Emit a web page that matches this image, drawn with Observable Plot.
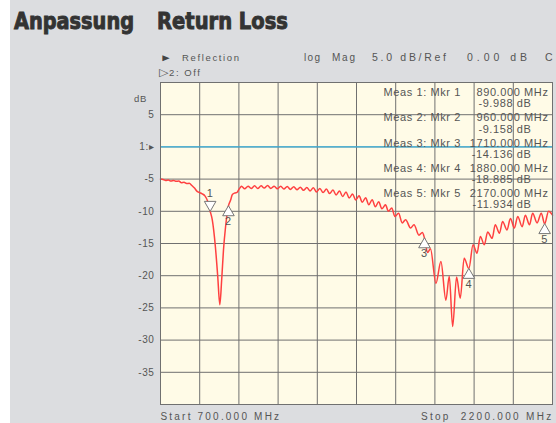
<!DOCTYPE html>
<html><head><meta charset="utf-8">
<script src="https://cdn.jsdelivr.net/npm/d3@7"></script>
<script src="https://cdn.jsdelivr.net/npm/@observablehq/plot@0.6"></script>
<style>
html,body{margin:0;padding:0;background:#fff;}
#page{position:relative;width:556px;height:423px;overflow:hidden;}
#panel{position:absolute;left:10px;top:0;width:546px;height:423px;background:#dcdde0;}
#chart{position:absolute;left:0;top:0;}
#head{position:absolute;left:0;top:0;}
</style></head><body>
<div id="page"><div id="panel"></div><div id="chart"></div><svg id="head" width="556" height="82"></svg></div>
<script>
// Trace (frequency in MHz, return loss in dB)
const traceFreq = [700,710,720,730,740,750,760,770,780,790,800,810,820,830,840,850,860,870,880,890,
  898,910,919,927,934,941,949,960,968,975,985,993,1000,1006,
  1010,1022,1035,1047,1060,1072,1085,1097,1110,1122,1135,1147,1160,1172,1185,1197,
  1210,1222,1235,1247,1260,1272,1285,1297,1310,1322,1335,1347,1360,1372,1385,1397,
  1410,1422,1435,1447,1460,1472,1485,1497,1510,1522,1535,1547,1561,1572,1585,1597,
  1611,1625,1638,1657,1670,1689,1702,1710,1722,1733,1754,1773,1792,1805,1818,1833,
  1847,1862,1880,1896,1911,1924,1939,1952,1969,1981,1997,2009,2026,2039,2054,2067,
  2084,2096,2112,2124,2141,2157,2170,2185,2200];
const traceDb = [-5.0,-5.05,-5.2,-5.15,-5.3,-5.2,-5.35,-5.3,-5.55,-5.5,-5.7,-5.65,-6.0,-6.4,-6.9,-7.1,-7.3,-7.6,-8.4,-9.988,
  -11.3,-15.5,-20.1,-24.5,-20.7,-16.0,-12.4,-9.158,-8.3,-7.4,-7.15,-7.05,-6.6,-6.25,
  -6.1,-6.5,-6.1,-6.45,-6.05,-6.45,-6.05,-6.4,-6.0,-6.45,-6.1,-6.5,-6.1,-6.55,-6.15,-6.6,
  -6.2,-6.65,-6.25,-6.75,-6.3,-6.85,-6.35,-7.0,-6.45,-7.1,-6.55,-7.25,-6.7,-7.45,-6.85,-7.7,
  -7.0,-7.95,-7.3,-8.25,-7.6,-8.6,-7.9,-9.0,-8.2,-9.3,-8.5,-9.6,-9.0,-10.0,-9.5,-10.8,
  -10.3,-11.8,-11.3,-12.6,-12.1,-13.7,-13.3,-14.136,-16.4,-15.8,-21.2,-17.8,-23.8,-20.1,-27.9,-20.2,
  -23.5,-17.3,-18.885,-15.2,-16.5,-13.9,-15.2,-13.2,-14.2,-12.1,-13.4,-11.6,-12.9,-11.1,-12.6,-10.8,
  -12.4,-10.6,-12.1,-10.3,-11.8,-10.3,-11.934,-10.0,-10.6];

// Markers
const markerNum = [1, 2, 3, 4, 5];
const markerFreq = [890, 960, 1710, 1880, 2170];
const markerDb = [-9.988, -9.158, -14.136, -18.885, -11.934];
const markerDown = [true, false, false, false, false];

// Grid / ticks
const xGrid = [700, 850, 1000, 1150, 1300, 1450, 1600, 1750, 1900, 2050, 2200];
const yGrid = [10, 5, 0, -5, -10, -15, -20, -25, -30, -35, -40];
const yLabels = [5, 0, -5, -10, -15, -20, -25, -30, -35];
const refLevel = 0;

const startLabel = "Start 700.000 MHz";
const stopLabel = "Stop  2200.000 MHz";

const trace = traceFreq.map((f, i) => ({f, db: traceDb[i]}));
const markers = markerNum.map((n, i) => ({n, f: markerFreq[i], db: markerDb[i], down: markerDown[i]}));
const upM = markers.filter(d => !d.down), downM = markers.filter(d => d.down);

const gridColor = "#707070";
const txt = "#555";

const measMarks = markers.flatMap((m, i) => [
  Plot.text([`Meas ${m.n}: Mkr ${m.n}`], {text: d => d, frameAnchor: "top-left", dx: 223, dy: 9.7 + 25.4 * i, textAnchor: "start", lineAnchor: "middle", fontSize: 11, fill: txt}),
  Plot.text([`${m.f.toFixed(3)} MHz`], {text: d => d, frameAnchor: "top-right", dx: -4, dy: 9.7 + 25.4 * i, textAnchor: "end", lineAnchor: "middle", fontSize: 11, fill: txt}),
  Plot.text([`${m.db.toFixed(3)} dB`], {text: d => d, frameAnchor: "top-right", dx: -21, dy: 21.3 + 25.2 * i, textAnchor: "end", lineAnchor: "middle", fontSize: 11, fill: txt})
]);

const plot = Plot.plot({
  width: 556, height: 423,
  marginLeft: 160, marginRight: 4, marginTop: 82, marginBottom: 19,
  x: {domain: [700, 2200], axis: null},
  y: {domain: [-40, 10], label: null},
  style: {background: "transparent", fontFamily: "'Liberation Sans', Arial, sans-serif", letterSpacing: "0.6px"},
  marks: [
    Plot.frame({fill: "#fffbe7", stroke: null}),
    Plot.ruleX(xGrid, {stroke: gridColor, strokeWidth: 1}),
    Plot.ruleY(yGrid, {stroke: gridColor, strokeWidth: 1}),
    Plot.ruleY([refLevel], {stroke: "#3ab4e0", strokeWidth: 1.3}),
    Plot.axisY(yLabels, {label: null, tickSize: 0, tickPadding: 6, fontSize: 10, fill: txt,
      tickFormat: d => d === 0 ? "1:\u25B8" : String(d)}),
    Plot.text(["dB"], {text: d => d, frameAnchor: "top-left", dx: -20, dy: 13, textAnchor: "middle", fontSize: 9.5, fill: txt}),
    ...measMarks,
    Plot.line(trace, {x: "f", y: "db", stroke: "#ff4040", strokeWidth: 1.5, curve: "monotone-x"}),
    Plot.dot(upM, {x: "f", y: "db", symbol: "triangle", r: 4.3, dy: 6.5, fill: "#fff", stroke: "#777", strokeWidth: 1}),
    Plot.dot(downM, {x: "f", y: "db", symbol: "triangle", rotate: 180, r: 4.3, dy: -6.5, fill: "#fff", stroke: "#777", strokeWidth: 1}),
    Plot.text(upM, {x: "f", y: "db", text: d => String(d.n), dy: 16, fontSize: 11, fill: txt}),
    Plot.text(downM, {x: "f", y: "db", text: d => String(d.n), dy: -18, fontSize: 11, fill: txt}),
    Plot.text([startLabel], {text: d => d, frameAnchor: "bottom-left", dy: 12.5, textAnchor: "start", lineAnchor: "middle", fontSize: 10, fill: txt}),
    Plot.text([stopLabel], {text: d => d, frameAnchor: "bottom-right", dx: 1, dy: 12.5, textAnchor: "end", lineAnchor: "middle", fontSize: 10, fill: txt}),
    Plot.frame({stroke: gridColor, strokeWidth: 1})
  ]
});
document.getElementById("chart").appendChild(plot);
d3.select(plot).selectAll("text").filter(function() { return /^Start/.test(this.textContent); })
  .style("letter-spacing", "2.2px");
d3.select(plot).selectAll("text").filter(function() { return /^Stop/.test(this.textContent); })
  .style("letter-spacing", "2.3px").style("white-space", "pre");

// Header texts (title + instrument status line)
const head = d3.select("#head");
const titleFont = "'Liberation Sans Narrow','DejaVu Sans Condensed','Liberation Sans',sans-serif";
const headItems = [
  {t: "Anpassung", x: 14, y: 28.5, w: 120, s: 23, b: true, c: "#333", adj: "spacingAndGlyphs", f: titleFont, sw: 0.9},
  {t: "Return Loss", x: 157, y: 28.5, w: 131, s: 23, b: true, c: "#333", adj: "spacingAndGlyphs", f: titleFont, sw: 0.9},
  {t: "\u25BA", x: 160, y: 60.5, w: 12, s: 10, c: "#444", adj: "spacingAndGlyphs"},
  {t: "Reflection", x: 182, y: 60.5, w: 57, s: 9.5, c: txt, adj: "spacing"},
  {t: "\u25B7", x: 159, y: 76, w: 9, s: 11, c: txt, adj: "spacingAndGlyphs"},
  {t: "2: Off", x: 169, y: 75.5, w: 31, s: 9.5, c: txt, adj: "spacing"},
  {t: "log", x: 304, y: 60.5, w: 16, s: 10, c: txt, adj: "spacing"},
  {t: "Mag", x: 332, y: 60.5, w: 23, s: 10, c: txt, adj: "spacing"},
  {t: "5.0 dB/Ref", x: 372, y: 60.5, w: 74, s: 10.5, c: txt, adj: "spacing"},
  {t: "0.00 dB", x: 467, y: 60.5, w: 60, s: 10.5, c: txt, adj: "spacing"},
  {t: "C", x: 545, y: 60.5, w: 7, s: 10.5, c: txt, adj: "spacing"}
];
head.selectAll("text").data(headItems).join("text")
  .attr("x", d => d.x).attr("y", d => d.y)
  .attr("textLength", d => d.w).attr("lengthAdjust", d => d.adj)
  .attr("font-size", d => d.s).attr("font-weight", d => d.b ? "bold" : "normal")
  .attr("font-family", d => d.f || "'Liberation Sans', Arial, sans-serif")
  .attr("fill", d => d.c)
  .attr("stroke", d => d.sw ? d.c : null).attr("stroke-width", d => d.sw || null)
  .text(d => d.t);
</script>
</body></html>
